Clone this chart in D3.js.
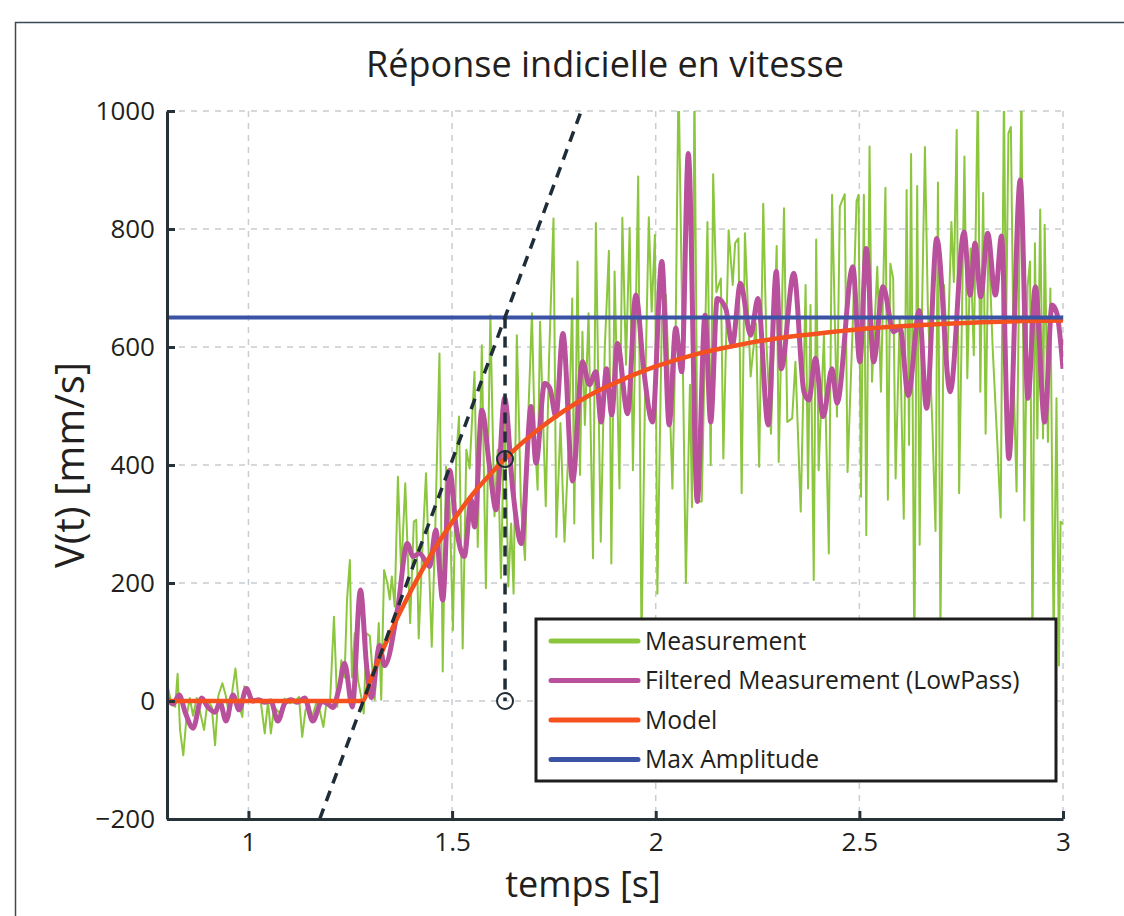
<!DOCTYPE html>
<meta charset="utf-8">
<title>Réponse indicielle en vitesse</title>
<style>

body {
  margin: 0;
  background: #fff;
}

svg {
  display: block;
}

.axis path,
.axis line {
  fill: none;
  stroke: #263238;
  stroke-width: 3;
}

.axis text {
  font: 26px "Open Sans", sans-serif;
  fill: #231f20;
}

.grid line {
  stroke: #c9cdd1;
  stroke-width: 1.5;
  stroke-dasharray: 6,6;
}

.axislabel {
  font: 36px "Open Sans", sans-serif;
  fill: #231f20;
}

.legend text {
  font: 24.7px "Open Sans", sans-serif;
  fill: #231f20;
}

</style>
<svg class="chart"></svg>

<script src="https://d3js.org/d3.v7.min.js"></script>
<script>

// raw measurement [time (s), speed (mm/s)]
var measurement = [
  [0.800,30],[0.811,-4],[0.820,-10],[0.826,46],[0.832,-49],[0.840,-92],[0.848,-27],[0.856,5],
  [0.864,-25],[0.873,5],[0.881,-18],[0.891,-49],[0.900,2],[0.910,-10],[0.918,-75],[0.926,9],
  [0.936,30],[0.944,10],[0.953,-27],[0.961,20],[0.968,55],[0.977,-7],[0.985,-27],[0.990,25],
  [1.000,12],[1.009,-2],[1.020,0],[1.030,0],[1.040,-55],[1.048,0],[1.055,-55],[1.063,-10],
  [1.077,-21],[1.089,4],[1.101,-4],[1.115,0],[1.124,7],[1.132,-61],[1.140,-16],[1.148,-4],
  [1.156,-27],[1.167,-2],[1.175,-16],[1.184,-44],[1.192,0],[1.200,-7],[1.210,143],[1.218,-10],
  [1.228,69],[1.236,40],[1.242,171],[1.249,239],[1.254,40],[1.261,115],[1.269,35],[1.277,7],
  [1.283,-21],[1.290,115],[1.298,110],[1.310,2],[1.320,132],[1.326,2],[1.333,222],[1.341,200],
  [1.347,172],[1.352,211],[1.359,160],[1.367,380],[1.375,216],[1.385,369],[1.397,132],[1.406,304],
  [1.412,307],[1.418,106],[1.428,273],[1.436,386],[1.450,92],[1.459,301],[1.469,589],[1.477,50],
  [1.485,397],[1.494,335],[1.502,120],[1.510,409],[1.517,482],[1.526,89],[1.535,426],[1.543,394],
  [1.555,558],[1.563,261],[1.573,603],[1.583,191],[1.594,654],[1.604,313],[1.612,426],[1.620,208],
  [1.629,510],[1.638,194],[1.645,301],[1.651,182],[1.659,620],[1.669,335],[1.679,239],[1.687,482],
  [1.696,657],[1.703,448],[1.710,358],[1.716,643],[1.730,330],[1.738,578],[1.749,818],[1.756,278],
  [1.766,471],[1.776,270],[1.786,431],[1.795,682],[1.800,301],[1.808,745],[1.814,383],[1.820,626],
  [1.826,468],[1.835,657],[1.846,242],[1.853,810],[1.865,270],[1.875,600],[1.885,763],[1.891,233],
  [1.899,728],[1.911,360],[1.918,819],[1.927,570],[1.936,802],[1.944,391],[1.957,889],[1.965,90],
  [1.973,490],[1.983,820],[1.990,660],[1.998,790],[2.004,182],[2.015,649],[2.025,688],[2.033,536],
  [2.041,360],[2.049,632],[2.056,1060],[2.066,603],[2.074,200],[2.084,536],[2.089,329],[2.095,1050],
  [2.103,338],[2.113,338],[2.127,812],[2.135,400],[2.141,893],[2.149,693],[2.160,716],[2.166,411],
  [2.179,798],[2.189,705],[2.195,776],[2.203,784],[2.211,352],[2.219,793],[2.233,550],[2.246,640],
  [2.254,397],[2.264,843],[2.272,603],[2.283,453],[2.297,771],[2.302,405],[2.315,835],[2.323,473],
  [2.335,479],[2.343,575],[2.356,321],[2.368,705],[2.374,360],[2.380,671],[2.388,205],[2.394,782],
  [2.400,391],[2.413,620],[2.425,250],[2.433,858],[2.445,482],[2.452,838],[2.464,859],[2.471,388],
  [2.484,643],[2.493,847],[2.498,858],[2.504,346],[2.511,858],[2.517,281],[2.525,940],[2.531,541],
  [2.544,736],[2.553,524],[2.564,870],[2.570,341],[2.576,741],[2.583,716],[2.589,377],[2.599,649],
  [2.609,309],[2.616,866],[2.622,434],[2.627,927],[2.635,60],[2.642,873],[2.648,265],[2.654,671],
  [2.661,939],[2.668,671],[2.679,473],[2.687,288],[2.693,879],[2.699,120],[2.708,705],[2.716,575],
  [2.726,812],[2.732,710],[2.739,968],[2.745,352],[2.758,923],[2.765,547],[2.773,767],[2.781,586],
  [2.791,1040],[2.797,524],[2.804,861],[2.810,453],[2.817,790],[2.827,603],[2.839,433],[2.847,311],
  [2.855,1040],[2.860,614],[2.866,962],[2.872,973],[2.880,513],[2.886,355],[2.898,1040],[2.905,306],
  [2.913,702],[2.919,745],[2.925,80],[2.931,776],[2.937,445],[2.944,833],[2.951,445],[2.955,807],
  [2.963,439],[2.969,699],[2.977,100],[2.984,513],[2.990,60],[2.994,304],[3.000,300]
];

// low pass filtered measurement
var filtered = [
  [0.800,5],[0.815,-5],[0.830,10],[0.845,-20],[0.864,-46],[0.885,5],[0.900,-10],[0.918,-19],
  [0.930,-2],[0.945,-34],[0.962,10],[0.977,-15],[0.995,21],[1.010,0],[1.025,2],[1.040,-2],
  [1.055,0],[1.072,-34],[1.090,-3],[1.105,2],[1.120,-2],[1.138,5],[1.158,-34],[1.180,-1],
  [1.195,-5],[1.207,-11],[1.222,20],[1.236,64],[1.255,-10],[1.275,188],[1.290,60],[1.302,6],
  [1.322,94],[1.334,60],[1.367,160],[1.390,267],[1.404,245],[1.420,250],[1.445,228],[1.460,290],
  [1.477,171],[1.494,391],[1.510,295],[1.530,245],[1.547,341],[1.555,295],[1.573,493],[1.592,397],
  [1.608,324],[1.629,514],[1.649,358],[1.670,267],[1.694,499],[1.706,403],[1.727,538],[1.740,530],
  [1.755,482],[1.772,623],[1.796,373],[1.820,575],[1.837,536],[1.853,558],[1.866,473],[1.879,563],
  [1.892,485],[1.906,606],[1.931,487],[1.951,688],[1.971,558],[1.992,473],[2.015,745],[2.033,468],
  [2.049,632],[2.064,558],[2.080,928],[2.102,338],[2.121,654],[2.135,473],[2.151,682],[2.172,665],
  [2.188,603],[2.208,708],[2.233,620],[2.251,682],[2.276,468],[2.296,728],[2.308,563],[2.339,725],
  [2.364,524],[2.376,510],[2.392,581],[2.411,482],[2.433,563],[2.445,505],[2.484,736],[2.501,575],
  [2.517,767],[2.535,575],[2.558,702],[2.584,626],[2.600,632],[2.620,518],[2.647,662],[2.665,496],
  [2.690,784],[2.723,524],[2.757,795],[2.772,688],[2.784,776],[2.798,685],[2.815,793],[2.834,688],
  [2.849,788],[2.867,411],[2.895,883],[2.914,513],[2.932,702],[2.955,473],[2.973,671],[2.985,657],
  [3.000,563]
];

var modelTime  = [0.8, 1.28, 1.30, 1.35, 1.40, 1.45, 1.50, 1.55, 1.60, 1.65, 1.70, 1.75, 1.80, 1.85,
                  1.90, 1.95, 2.00, 2.10, 2.20, 2.30, 2.40, 2.50, 2.60, 2.70, 2.80, 2.90, 3.00];
var modelValue = [0, 0, 36, 118, 188, 250, 303, 350, 389, 424, 454, 480, 503, 523,
                  539, 554, 567, 588, 603, 615, 623, 630, 635, 639, 642, 644, 645];

var maxAmplitude = 650;

// tangent at the start of the response and time constant marker
var tangentTime  = [1.175, 1.817];
var tangentValue = [-200, 1000];
var tauTime = 1.63;
var tauValue = 410;

var xTicks = [1, 1.5, 2, 2.5, 3];
var yTicks = [-200, 0, 200, 400, 600, 800, 1000];

var seriesNames  = ["Measurement", "Filtered Measurement (LowPass)", "Model", "Max Amplitude"];
var seriesColors = ["#8cc63f", "#b8509c", "#f4511e", "#3b53a4"];

var margin = {top: 111, right: 61, bottom: 97, left: 167},
    width = 1124 - margin.left - margin.right,
    height = 916 - margin.top - margin.bottom;

var svg = d3.select(".chart")
    .attr("width", 1124)
    .attr("height", 916);

// figure frame
svg.append("rect")
    .attr("x", 15.5)
    .attr("y", 22.5)
    .attr("width", 1200)
    .attr("height", 1000)
    .attr("fill", "none")
    .attr("stroke", "#3b4a54")
    .attr("stroke-width", 1.5);

svg.append("text")
    .attr("class", "axislabel")
    .attr("x", 605)
    .attr("y", 77)
    .style("text-anchor", "middle")
    .text("Réponse indicielle en vitesse");

var chart = svg.append("g")
    .attr("transform", "translate(" + margin.left + "," + margin.top + ")");

var x = d3.scaleLinear()
    .domain([0.8, 3])
    .range([0, width]);

var y = d3.scaleLinear()
    .domain([-200, 1000])
    .range([height, 0]);

chart.append("defs").append("clipPath")
    .attr("id", "plot-clip")
    .append("rect")
    .attr("width", width)
    .attr("height", height);

// grid
var grid = chart.append("g").attr("class", "grid");

grid.selectAll(".vgrid")
    .data(xTicks)
    .enter().append("line")
    .attr("x1", function(d) { return x(d); })
    .attr("x2", function(d) { return x(d); })
    .attr("y1", 0)
    .attr("y2", height);

grid.selectAll(".hgrid")
    .data(yTicks.filter(function(d) { return d > -200; }))
    .enter().append("line")
    .attr("x1", 0)
    .attr("x2", width)
    .attr("y1", function(d) { return y(d); })
    .attr("y2", function(d) { return y(d); });

var plot = chart.append("g").attr("clip-path", "url(#plot-clip)");

var line = d3.line()
    .x(function(d) { return x(d[0]); })
    .y(function(d) { return y(d[1]); });

plot.append("path")
    .datum(measurement)
    .attr("fill", "none")
    .attr("stroke", seriesColors[0])
    .attr("stroke-width", 2)
    .attr("stroke-linejoin", "round")
    .attr("d", line);

plot.append("path")
    .datum(filtered)
    .attr("fill", "none")
    .attr("stroke", seriesColors[1])
    .attr("stroke-width", 5)
    .attr("stroke-linejoin", "round")
    .attr("d", line.curve(d3.curveMonotoneX));

plot.append("path")
    .datum(d3.zip(modelTime, modelValue))
    .attr("fill", "none")
    .attr("stroke", seriesColors[2])
    .attr("stroke-width", 4.5)
    .attr("d", line.curve(d3.curveMonotoneX));

plot.append("line")
    .attr("x1", x(0.8))
    .attr("x2", x(3))
    .attr("y1", y(maxAmplitude))
    .attr("y2", y(maxAmplitude))
    .attr("stroke", seriesColors[3])
    .attr("stroke-width", 4);

// tangent and time constant
plot.append("path")
    .datum(d3.zip(tangentTime, tangentValue))
    .attr("fill", "none")
    .attr("stroke", "#1f2d38")
    .attr("stroke-width", 3.5)
    .attr("stroke-dasharray", "11,8")
    .attr("d", line.curve(d3.curveLinear));

plot.append("line")
    .attr("x1", x(tauTime))
    .attr("x2", x(tauTime))
    .attr("y1", y(maxAmplitude))
    .attr("y2", y(0))
    .attr("stroke", "#1f2d38")
    .attr("stroke-width", 3.5)
    .attr("stroke-dasharray", "11,8");

plot.selectAll(".marker")
    .data([[tauTime, tauValue], [tauTime, 0]])
    .enter().append("circle")
    .attr("cx", function(d) { return x(d[0]); })
    .attr("cy", function(d) { return y(d[1]); })
    .attr("r", 8)
    .attr("fill", "none")
    .attr("stroke", "#1f2d38")
    .attr("stroke-width", 2);

// axes
chart.append("g")
    .attr("class", "x axis")
    .attr("transform", "translate(0," + height + ")")
    .call(d3.axisBottom(x)
      .tickValues(xTicks)
      .tickFormat(d3.format(""))
      .tickSize(-8)
      .tickSizeOuter(0)
      .tickPadding(14));

chart.append("g")
    .attr("class", "y axis")
    .call(d3.axisLeft(y)
      .tickValues(yTicks)
      .tickFormat(d3.format(""))
      .tickSize(-8)
      .tickSizeOuter(0)
      .tickPadding(12));

// text label for the x axis
svg.append("text")
    .attr("class", "axislabel")
    .attr("x", 583)
    .attr("y", 897)
    .style("text-anchor", "middle")
    .text("temps [s]");

// text label for the y axis
svg.append("text")
    .attr("class", "axislabel")
    .attr("transform", "translate(84,465) rotate(-90)")
    .style("text-anchor", "middle")
    .style("font-size", "40px")
    .text("V(t) [mm/s]");

// legend
var legend = chart.append("g")
    .attr("class", "legend")
    .attr("transform", "translate(" + (536 - margin.left) + "," + (619 - margin.top) + ")");

legend.append("rect")
    .attr("width", 520)
    .attr("height", 162)
    .attr("fill", "#fff")
    .attr("stroke", "#1e1e1e")
    .attr("stroke-width", 3);

var rows = legend.selectAll(".row")
    .data(seriesNames)
    .enter().append("g")
    .attr("transform", function(d, i) { return "translate(0," + (22 + i * 39.5) + ")"; });

rows.append("line")
    .attr("x1", 15)
    .attr("x2", 102)
    .attr("stroke", function(d, i) { return seriesColors[i]; })
    .attr("stroke-width", 5)
    .attr("stroke-linecap", "round");

rows.append("text")
    .attr("x", 109)
    .attr("dy", "0.35em")
    .text(function(d) { return d; });

</script>
